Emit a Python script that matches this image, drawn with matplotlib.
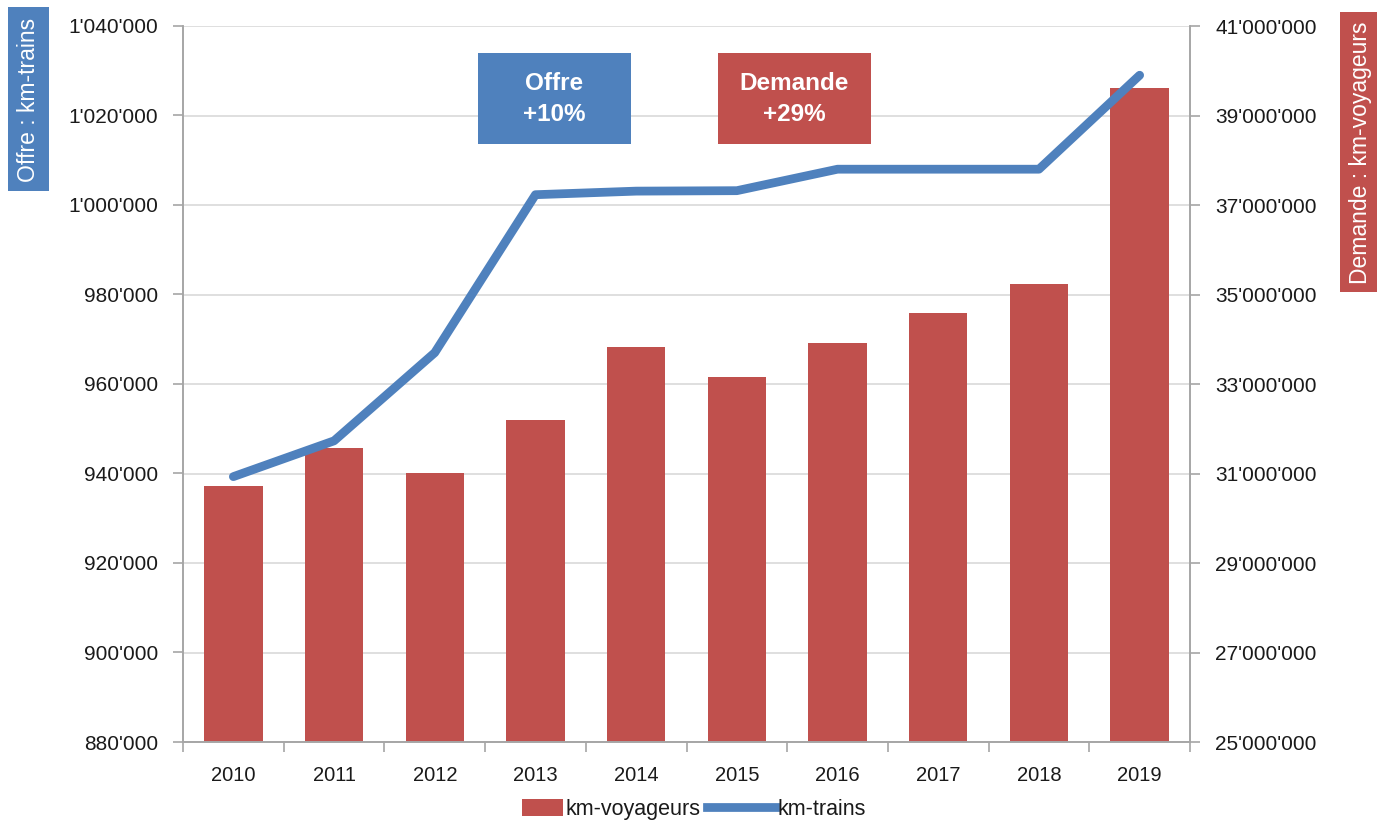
import matplotlib
matplotlib.use("Agg")
import matplotlib.pyplot as plt
from matplotlib.ticker import FuncFormatter, FixedLocator
from matplotlib.patches import Patch, Rectangle
from matplotlib.lines import Line2D
from matplotlib.legend_handler import HandlerPatch

plt.rcParams['font.family'] = ['Liberation Sans', 'DejaVu Sans']

years = ['2010', '2011', '2012', '2013', '2014', '2015', '2016', '2017', '2018', '2019']
km_voyageurs = [30720000, 31570000, 31010000, 32200000, 33830000, 33160000, 33920000, 34590000, 35230000, 39610000]
km_trains = [939300, 947300, 967000, 1002300, 1003100, 1003200, 1008000, 1008000, 1008000, 1029000]

left_ticks = [880000, 900000, 920000, 940000, 960000, 980000, 1000000, 1020000, 1040000]
right_ticks = [25000000, 27000000, 29000000, 31000000, 33000000, 35000000, 37000000, 39000000, 41000000]

BLUE = '#4F81BD'
RED = '#C0504D'
GRID = '#D9D9D9'
SPINE = '#A6A6A6'
TXT = '#1a1a1a'

def fmt(v, pos=None):
    return f"{int(round(v)):,}".replace(',', "'")

fig = plt.figure(figsize=(13.77, 8.21), dpi=100)
ax = fig.add_axes([183/1377, 1-742/821, (1190-183)/1377, (742-26)/821])
ax2 = ax.twinx()

x = list(range(len(years)))
# bars on primary axis (ticks on right)
ax.bar(x, km_voyageurs, width=0.58, color=RED, zorder=2)
ax.set_ylim(right_ticks[0], right_ticks[-1])
ax.yaxis.set_major_locator(FixedLocator(right_ticks))
ax.yaxis.set_major_formatter(FuncFormatter(fmt))
ax.yaxis.tick_right()
ax.grid(axis='y', color=GRID, linewidth=1.2, zorder=0)
ax.set_axisbelow(True)

# line on twin axis (ticks on left)
ax2.plot(x, km_trains, color=BLUE, linewidth=6.3, solid_capstyle='round', solid_joinstyle='round', zorder=3)
ax2.set_ylim(left_ticks[0], left_ticks[-1])
ax2.yaxis.set_major_locator(FixedLocator(left_ticks))
ax2.yaxis.set_major_formatter(FuncFormatter(fmt))
ax2.yaxis.tick_left()

ax.set_xlim(-0.5, len(years) - 0.5)
ax.set_xticks(x)
ax.set_xticklabels(years)
ax.set_xticks([i - 0.5 for i in range(len(years) + 1)], minor=True)
ax.tick_params(axis='x', which='major', length=0, pad=17, labelsize=14.5, labelcolor=TXT)
ax.tick_params(axis='x', which='minor', length=7, color=SPINE, width=1.2)
ax.tick_params(axis='y', length=7, color=SPINE, width=1.2, labelsize=15, labelcolor=TXT, pad=11)
ax2.tick_params(axis='y', length=7, color=SPINE, width=1.2, labelsize=15, labelcolor=TXT, pad=11)

for a in (ax, ax2):
    a.spines['top'].set_visible(False)
    for s in ('left', 'right', 'bottom'):
        a.spines[s].set_color(SPINE)
        a.spines[s].set_linewidth(1.2)

# annotation boxes
fig.patches.append(Rectangle((478/1377, 1-144/821), (631-478)/1377, (144-53)/821,
                             transform=fig.transFigure, facecolor=BLUE, edgecolor='none'))
fig.patches.append(Rectangle((718/1377, 1-144/821), (871-718)/1377, (144-53)/821,
                             transform=fig.transFigure, facecolor=RED, edgecolor='none'))
fig.text((478 + 631) / 2 / 1377, 1 - 99 / 821, 'Offre\n+10%', ha='center', va='center',
         color='white', fontsize=17.5, fontweight='bold', linespacing=1.45)
fig.text((718 + 871) / 2 / 1377, 1 - 99 / 821, 'Demande\n+29%', ha='center', va='center',
         color='white', fontsize=17.5, fontweight='bold', linespacing=1.45)

# axis title boxes
fig.patches.append(Rectangle((8/1377, 1-191/821), 41/1377, 184/821,
                             transform=fig.transFigure, facecolor=BLUE, edgecolor='none'))
fig.text(28.5/1377, 1-100/821, 'Offre : km-trains', rotation=90, ha='center', va='center',
         color='white', fontsize=16.5)
fig.patches.append(Rectangle((1340/1377, 1-292/821), 40/1377, 280/821,
                             transform=fig.transFigure, facecolor=RED, edgecolor='none'))
fig.text(1361/1377, 1-153/821, 'Demande : km-voyageurs', rotation=90, ha='center', va='center',
         color='white', fontsize=16.5)


def narrow_patch(legend, orig_handle, xdescent, ydescent, width, height, fontsize):
    w = width * 0.6
    return Rectangle((-xdescent + width - w, -ydescent - height * 0.1), w, height * 1.1)

handles = [Patch(facecolor=RED, edgecolor='none'),
           Line2D([0], [0], color=BLUE, linewidth=6.3)]
fig.legend(handles, ['km-voyageurs', 'km-trains'], loc='center', bbox_to_anchor=(680/1377, 1-809/821),
           ncol=2, frameon=False, fontsize=15.5, handlelength=3.2, handletextpad=0.1, columnspacing=0.3,
           labelcolor=TXT, handler_map={Patch: HandlerPatch(patch_func=narrow_patch)})

fig.savefig('out.png', dpi=100)
